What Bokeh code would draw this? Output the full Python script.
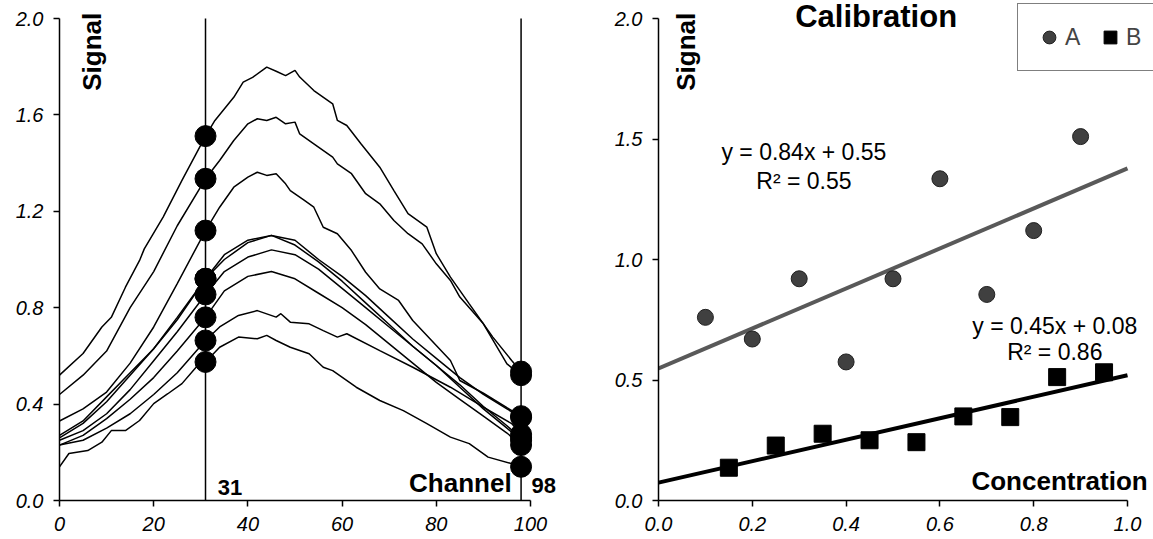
import numpy as np
from bokeh.plotting import figure
from bokeh.layouts import row
from bokeh.models import Range1d, FixedTicker, NumeralTickFormatter, Label, Legend, LegendItem
from bokeh.embed import file_html
from bokeh.resources import INLINE

# ---------------- data: spectra (left panel) ----------------
grid_ch = [0, 5, 10, 15, 20, 25, 31, 35, 40, 45, 50, 55, 60, 65, 70, 75, 80, 85, 90, 95, 98, 100]

spectrum_1_ch = [0, 5, 9, 11, 14, 17, 18, 22, 26, 29, 31, 33, 37, 39, 41, 44, 46, 48, 50, 51, 54, 58,
                 59, 61, 64, 68, 71, 74, 78, 80, 83, 87, 92, 96, 98, 100]
spectrum_1 = [0.52, 0.61, 0.72, 0.76, 0.885, 0.996, 1.044, 1.176, 1.328, 1.438, 1.512, 1.577, 1.673,
              1.736, 1.756, 1.798, 1.781, 1.763, 1.785, 1.757, 1.701, 1.646, 1.577, 1.556, 1.48, 1.383,
              1.286, 1.19, 1.134, 1.024, 0.927, 0.816, 0.678, 0.581, 0.535, 0.51]

spectrum_2_ch = [0, 5, 10, 15, 20, 25, 31, 34, 37, 40, 42, 44, 46, 48, 50, 51, 54, 58, 59, 62, 65,
                 68, 71, 74, 77, 80, 83, 85, 90, 95, 98, 100]
spectrum_2 = [0.44, 0.52, 0.62, 0.80, 0.95, 1.14, 1.335, 1.411, 1.494, 1.563, 1.584, 1.577, 1.59,
              1.563, 1.57, 1.521, 1.48, 1.425, 1.397, 1.356, 1.273, 1.231, 1.162, 1.107, 1.065, 0.982,
              0.913, 0.844, 0.733, 0.567, 0.52, 0.50]

spectrum_3_ch = [0, 5, 10, 15, 20, 25, 31, 34, 37, 40, 42, 44, 46, 48, 49, 52, 54, 56, 59, 62, 65,
                 68, 72, 75, 79, 83, 85, 90, 95, 98, 100]
spectrum_3 = [0.33, 0.38, 0.45, 0.57, 0.72, 0.90, 1.12, 1.217, 1.30, 1.342, 1.362, 1.349, 1.356,
              1.314, 1.286, 1.245, 1.217, 1.134, 1.107, 1.037, 0.947, 0.878, 0.83, 0.747, 0.664,
              0.581, 0.498, 0.445, 0.385, 0.35, 0.33]

spectrum_4_ch = grid_ch
spectrum_4 = [0.27, 0.33, 0.43, 0.53, 0.63, 0.75, 0.92, 1.02, 1.08, 1.10, 1.08, 1.00, 0.93, 0.85,
              0.76, 0.67, 0.59, 0.51, 0.44, 0.38, 0.345, 0.33]
spectrum_5_ch = grid_ch
spectrum_5 = [0.26, 0.32, 0.41, 0.52, 0.63, 0.76, 0.92, 1.00, 1.07, 1.10, 1.06, 0.99, 0.91, 0.82,
              0.73, 0.64, 0.56, 0.48, 0.39, 0.31, 0.26, 0.25]
spectrum_6_ch = grid_ch
spectrum_6 = [0.25, 0.29, 0.36, 0.46, 0.58, 0.70, 0.855, 0.95, 1.01, 1.04, 1.02, 0.96, 0.88, 0.80,
              0.72, 0.64, 0.56, 0.47, 0.38, 0.30, 0.25, 0.24]
spectrum_7_ch = grid_ch
spectrum_7 = [0.23, 0.27, 0.34, 0.42, 0.51, 0.62, 0.76, 0.87, 0.93, 0.95, 0.92, 0.86, 0.80, 0.73,
              0.65, 0.57, 0.49, 0.42, 0.35, 0.28, 0.23, 0.22]

spectrum_8_ch = [0, 5, 10, 15, 20, 25, 31, 34, 38, 42, 46, 47, 49, 53, 56, 59, 61, 68, 75, 83, 90,
                 96, 98, 100]
spectrum_8 = [0.23, 0.25, 0.30, 0.36, 0.44, 0.53, 0.664, 0.72, 0.768, 0.788, 0.761, 0.775, 0.74,
              0.733, 0.705, 0.678, 0.692, 0.622, 0.553, 0.47, 0.387, 0.319, 0.275, 0.26]

spectrum_9_ch = [0, 2, 6, 9, 11, 14, 17, 20, 23, 26, 29, 31, 34, 38, 42, 44, 46, 49, 53, 56, 58, 63,
                 68, 73, 78, 83, 87, 91, 96, 98, 100]
spectrum_9 = [0.14, 0.195, 0.207, 0.242, 0.29, 0.29, 0.332, 0.402, 0.443, 0.485, 0.553, 0.575, 0.636,
              0.678, 0.671, 0.685, 0.664, 0.636, 0.609, 0.553, 0.539, 0.47, 0.415, 0.373, 0.319,
              0.263, 0.236, 0.18, 0.153, 0.14, 0.13]

spectra = [(spectrum_1_ch, spectrum_1), (spectrum_2_ch, spectrum_2), (spectrum_3_ch, spectrum_3),
           (spectrum_4_ch, spectrum_4), (spectrum_5_ch, spectrum_5), (spectrum_6_ch, spectrum_6),
           (spectrum_7_ch, spectrum_7), (spectrum_8_ch, spectrum_8), (spectrum_9_ch, spectrum_9)]
marker_channels = [31, 98]
channel_ticks = [0, 20, 40, 60, 80, 100]
signal_ticks_left = [0.0, 0.4, 0.8, 1.2, 1.6, 2.0]

# ---------------- data: calibration (right panel) ----------------
conc_A = [0.1, 0.2, 0.3, 0.4, 0.5, 0.6, 0.7, 0.8, 0.9]
signal_A = [0.76, 0.67, 0.92, 0.575, 0.92, 1.335, 0.855, 1.12, 1.51]
conc_B = [0.15, 0.25, 0.35, 0.45, 0.55, 0.65, 0.75, 0.85, 0.95]
signal_B = [0.136, 0.228, 0.277, 0.25, 0.242, 0.349, 0.346, 0.512, 0.532]
conc_ticks = [0.0, 0.2, 0.4, 0.6, 0.8, 1.0]
signal_ticks_right = [0.0, 0.5, 1.0, 1.5, 2.0]
eq_A = ["y = 0.84x + 0.55", "R² = 0.55"]
eq_B = ["y = 0.45x + 0.08", "R² = 0.86"]

FONT = "Liberation Sans"

# frame geometry: the frames reach the top and right edges of each figure,
# axes are bounded to the data span so texts may sit beyond it unclipped
FRAME_H = 500
AXIS_SPAN_H = 482
LEFT_FRAME_W, LEFT_AXIS_W = 521, 471
RIGHT_FRAME_W, RIGHT_AXIS_W = 495, 469


def style_axes(p, xticks, yticks, xfmt, yfmt):
    p.xaxis.ticker = FixedTicker(ticks=xticks)
    p.yaxis.ticker = FixedTicker(ticks=yticks)
    p.xaxis.bounds = (xticks[0], xticks[-1])
    p.yaxis.bounds = (yticks[0], yticks[-1])
    if xfmt:
        p.xaxis.formatter = NumeralTickFormatter(format=xfmt)
    if yfmt:
        p.yaxis.formatter = NumeralTickFormatter(format=yfmt)
    for ax in p.axis:
        ax.axis_line_color = "black"
        ax.axis_line_width = 1.5
        ax.major_tick_line_color = "black"
        ax.major_tick_line_width = 1.5
        ax.major_tick_out = 6
        ax.major_tick_in = 0
        ax.minor_tick_line_color = None
        ax.major_label_text_font = FONT
        ax.major_label_text_font_style = "italic"
        ax.major_label_text_font_size = "20px"
        ax.major_label_text_color = "black"
        ax.major_label_standoff = 10
    p.xgrid.visible = False
    p.ygrid.visible = False
    p.outline_line_color = None
    p.background_fill_color = "white"
    p.border_fill_color = "white"


def text_label(p, x, y, text, size="26px", align="left", angle=0.0, bold=True):
    p.add_layout(Label(x=x, y=y, text=text, text_font=FONT,
                       text_font_style="bold" if bold else "normal",
                       text_font_size=size, text_color="black", text_align=align,
                       text_baseline="middle", angle=angle))


y_top = signal_ticks_left[-1] * FRAME_H / AXIS_SPAN_H

# ---------------- left panel ----------------
p1 = figure(width=580, height=539, output_backend="svg", toolbar_location=None,
            x_range=Range1d(0, channel_ticks[-1] * LEFT_FRAME_W / LEFT_AXIS_W),
            y_range=Range1d(0, y_top),
            min_border_left=59, min_border_right=0, min_border_top=0, min_border_bottom=39)
style_axes(p1, channel_ticks, signal_ticks_left, None, "0.0")

p1.segment(x0=marker_channels, y0=[signal_ticks_left[0]] * 2, x1=marker_channels,
           y1=[signal_ticks_left[-1]] * 2, line_color="black", line_width=1.5)
for ch_list, vals in spectra:
    p1.line(ch_list, vals, line_color="black", line_width=1.5)

for ch in marker_channels:
    p1.scatter([ch] * len(spectra), [vals[ch_list.index(ch)] for ch_list, vals in spectra],
               marker="circle", size=21, fill_color="black", line_color="black")

text_label(p1, 7.0, 1.70, "Signal", angle=np.pi / 2)
text_label(p1, 96.0, 0.073, "Channel", align="right")
text_label(p1, 33.6, 0.052, "31", size="22px")
text_label(p1, 100.2, 0.062, "98", size="22px")

# ---------------- right panel ----------------
p2 = figure(width=573, height=539, output_backend="svg", toolbar_location=None,
            x_range=Range1d(0, conc_ticks[-1] * RIGHT_FRAME_W / RIGHT_AXIS_W),
            y_range=Range1d(0, y_top),
            min_border_left=78, min_border_right=0, min_border_top=0, min_border_bottom=39)
style_axes(p2, conc_ticks, signal_ticks_right, "0.0", "0.0")

fit_x = np.array([conc_ticks[0], conc_ticks[-1]])
mA, bA = np.polyfit(conc_A, signal_A, 1)
mB, bB = np.polyfit(conc_B, signal_B, 1)
p2.line(fit_x, mA * fit_x + bA, line_color="#595959", line_width=4)
p2.line(fit_x, mB * fit_x + bB, line_color="black", line_width=4)

rA = p2.scatter(conc_A, signal_A, marker="circle", size=16, fill_color="#404040",
                line_color="#202020", line_width=1)
rB = p2.scatter(conc_B, signal_B, marker="square", size=17, fill_color="black",
                line_color="black")

legend = Legend(items=[LegendItem(label="A", renderers=[rA]), LegendItem(label="B", renderers=[rB])],
                orientation="horizontal", location=(359, 429),
                border_line_color="black", border_line_width=1.5,
                background_fill_color="white", background_fill_alpha=1.0,
                padding=15, spacing=9, margin=0, label_standoff=0,
                glyph_width=32, glyph_height=36,
                label_text_font=FONT, label_text_font_size="23px")
p2.add_layout(legend)

text_label(p2, 0.0597, 1.70, "Signal", angle=np.pi / 2)
text_label(p2, 1.043, 0.081, "Concentration", align="right")
text_label(p2, 0.464, 2.008, "Calibration", size="31px", align="center")

for txt, yy in zip(eq_A, [1.444, 1.326]):
    text_label(p2, 0.31, yy, txt, size="23px", align="center", bold=False)
for txt, yy in zip(eq_B, [0.724, 0.616]):
    text_label(p2, 0.845, yy, txt, size="23px", align="center", bold=False)

layout = row(p1, p2)
open("out.html", "w").write(file_html(layout, INLINE))
